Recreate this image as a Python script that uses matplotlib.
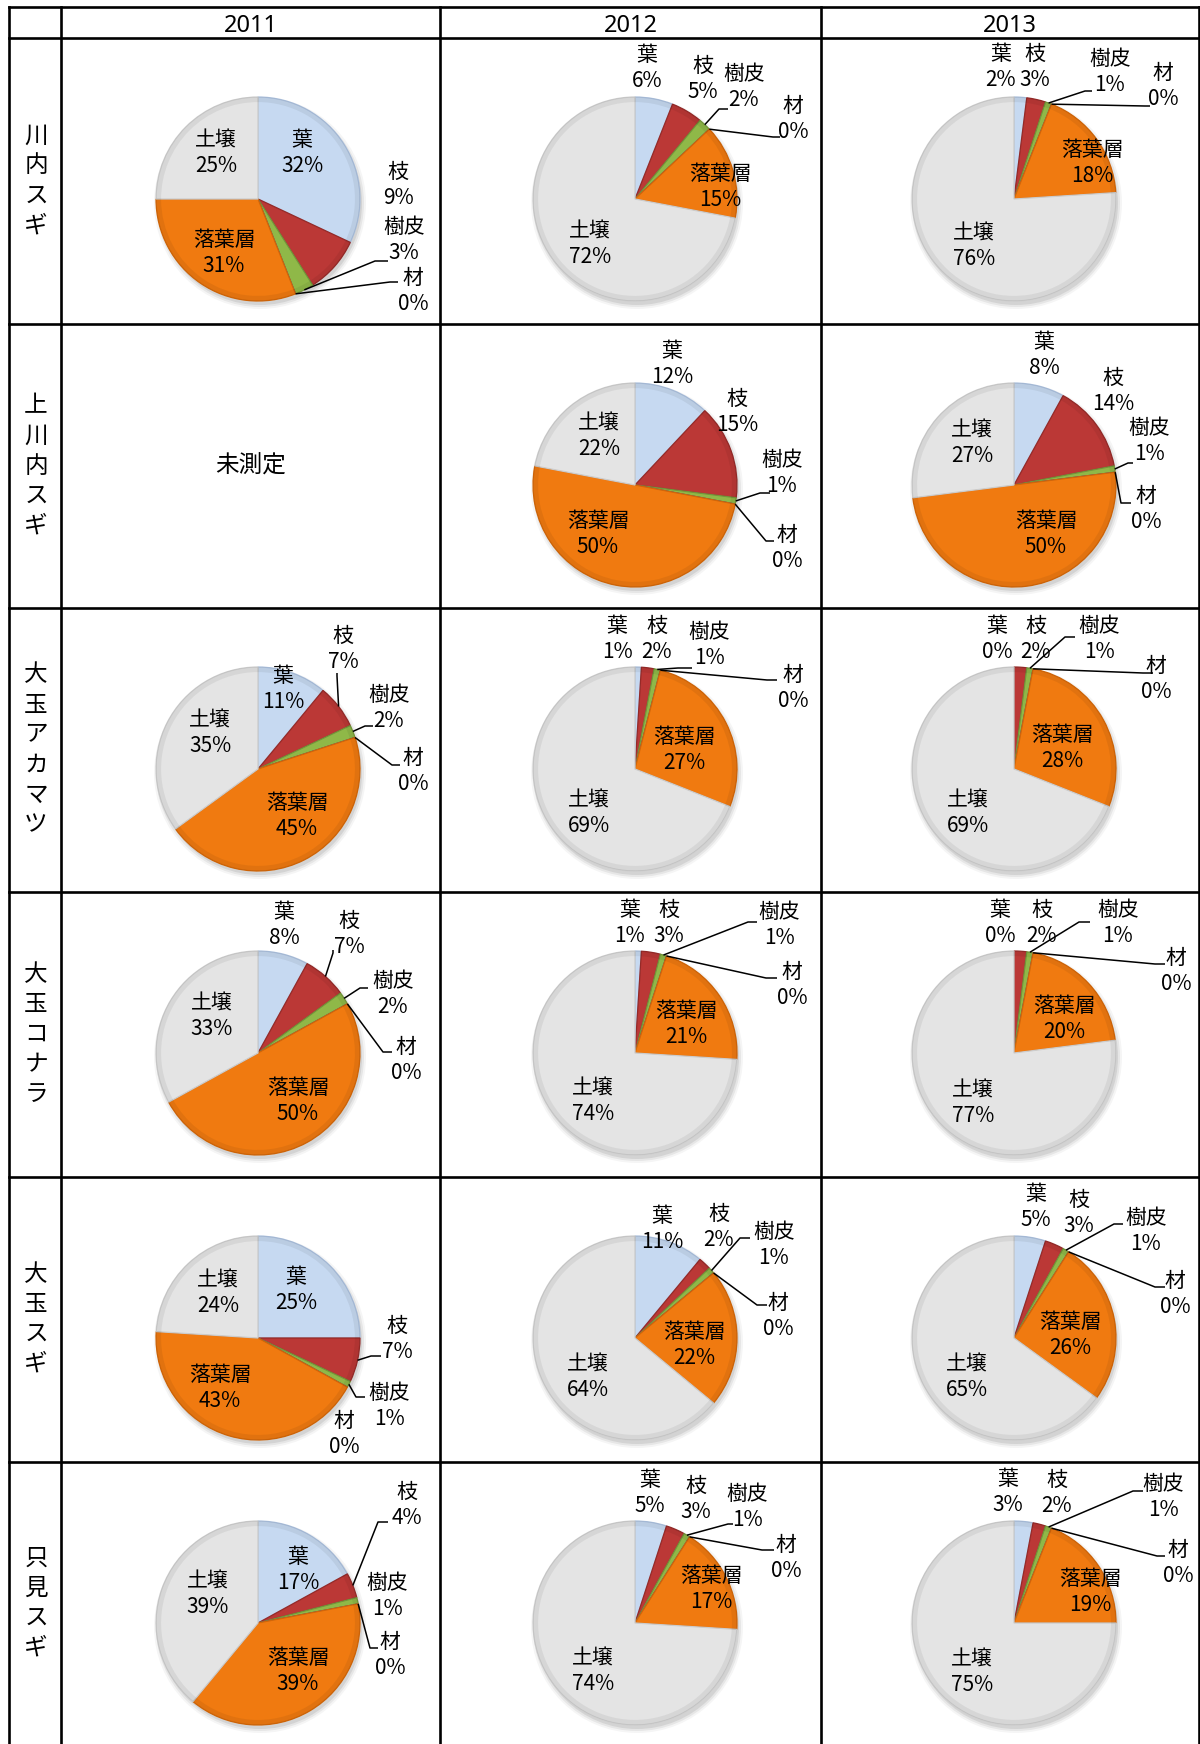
import matplotlib
matplotlib.use("Agg")
import matplotlib.pyplot as plt
import numpy as np
from matplotlib.patches import Wedge, Circle

plt.rcParams['font.family'] = ['Noto Sans CJK JP', 'DejaVu Sans']

# ---------------------------------------------------------------- data
categories = ['葉', '枝', '樹皮', '材', '落葉層', '土壌']
years = ['2011', '2012', '2013']
sites = ['川内スギ', '上川内スギ', '大玉アカマツ', '大玉コナラ', '大玉スギ', '只見スギ']
not_measured = '未測定'

# percentage shares per year (2011, 2012, 2013); None = not measured
kawauchi_sugi = [[32, 9, 3, 0, 31, 25], [6, 5, 2, 0, 15, 72], [2, 3, 1, 0, 18, 76]]
kamikawauchi_sugi = [None, [12, 15, 1, 0, 50, 22], [8, 14, 1, 0, 50, 27]]
otama_akamatsu = [[11, 7, 2, 0, 45, 35], [1, 2, 1, 0, 27, 69], [0, 2, 1, 0, 28, 69]]
otama_konara = [[8, 7, 2, 0, 50, 33], [1, 3, 1, 0, 21, 74], [0, 2, 1, 0, 20, 77]]
otama_sugi = [[25, 7, 1, 0, 43, 24], [11, 2, 1, 0, 22, 64], [5, 3, 1, 0, 26, 65]]
tadami_sugi = [[17, 4, 1, 0, 39, 39], [5, 3, 1, 0, 17, 74], [3, 2, 1, 0, 19, 75]]

site_values = [kawauchi_sugi, kamikawauchi_sugi, otama_akamatsu,
               otama_konara, otama_sugi, tadami_sugi]

# ---------------------------------------------------------------- style
colors = ['#c6d9f1', '#bb3836', '#8fb848', '#8064a2', '#f07a10', '#e4e4e4']
edge_colors = ['#a9bedb', '#952a28', '#73963a', '#5e4a7c', '#d26608', '#cccccc']

W, H = 1200, 1744
COL_LINES = [9, 61, 440, 821, 1199]
ROW_LINES = [7, 38, 324, 608, 892, 1177, 1462]
PIE_X = [258, 635, 1014]
PIE_DY = 161
R = 102
LABEL_FS = 15
LINE_GAP = 13

# label block centres, as pixel offsets from the pie centre
label_offsets = {
    (0, 0): {'葉': (44, -46), '枝': (140, -14), '樹皮': (146, 41), '材': (155, 92),
             '落葉層': (-34, 54), '土壌': (-42, -46)},
    (0, 1): {'葉': (12, -131), '枝': (68, -120), '樹皮': (109, -112), '材': (158, -80),
             '落葉層': (85, -12), '土壌': (-45, 45)},
    (0, 2): {'葉': (-13, -132), '枝': (21, -132), '樹皮': (96, -127), '材': (149, -113),
             '落葉層': (78, -36), '土壌': (-40, 47)},
    (1, 1): {'葉': (37, -121), '枝': (102, -73), '樹皮': (147, -12), '材': (152, 63),
             '落葉層': (-37, 49), '土壌': (-36, -49)},
    (1, 2): {'葉': (30, -130), '枝': (99, -94), '樹皮': (135, -44), '材': (132, 24),
             '落葉層': (32, 49), '土壌': (-42, -42)},
    (2, 0): {'葉': (25, -80), '枝': (85, -120), '樹皮': (131, -61), '材': (155, 2),
             '落葉層': (39, 47), '土壌': (-48, -36)},
    (2, 1): {'葉': (-18, -130), '枝': (22, -130), '樹皮': (74, -124), '材': (158, -81),
             '落葉層': (49, -19), '土壌': (-46, 44)},
    (2, 2): {'葉': (-17, -130), '枝': (22, -130), '樹皮': (85, -130), '材': (142, -90),
             '落葉層': (48, -21), '土壌': (-46, 44)},
    (3, 0): {'葉': (26, -128), '枝': (91, -119), '樹皮': (135, -59), '材': (148, 7),
             '落葉層': (40, 48), '土壌': (-46, -37)},
    (3, 1): {'葉': (-5, -130), '枝': (34, -130), '樹皮': (144, -128), '材': (157, -68),
             '落葉層': (51, -29), '土壌': (-42, 48)},
    (3, 2): {'葉': (-14, -130), '枝': (28, -130), '樹皮': (104, -130), '材': (162, -82),
             '落葉層': (50, -34), '土壌': (-41, 50)},
    (4, 0): {'葉': (38, -48), '枝': (139, 1), '樹皮': (131, 68), '材': (86, 96),
             '落葉層': (-38, 50), '土壌': (-40, -45)},
    (4, 1): {'葉': (27, -109), '枝': (84, -111), '樹皮': (139, -93), '材': (143, -22),
             '落葉層': (59, 7), '土壌': (-47, 39)},
    (4, 2): {'葉': (22, -131), '枝': (65, -125), '樹皮': (132, -107), '材': (161, -44),
             '落葉層': (56, -3), '土壌': (-47, 39)},
    (5, 0): {'葉': (40, -53), '枝': (149, -118), '樹皮': (129, -27), '材': (132, 32),
             '落葉層': (40, 48), '土壌': (-50, -29)},
    (5, 1): {'葉': (15, -130), '枝': (61, -124), '樹皮': (112, -116), '材': (151, -65),
             '落葉層': (76, -34), '土壌': (-42, 48)},
    (5, 2): {'葉': (-6, -131), '枝': (43, -130), '樹皮': (149, -126), '材': (164, -60),
             '落葉層': (76, -31), '土壌': (-42, 49)},
}

# leader lines: elbow and end point (offsets from pie centre); start is on the rim
leader_offsets = {
    (0, 0): {'樹皮': [(117, 62), (130, 62)], '材': [(132, 83), (140, 83)]},
    (0, 1): {'樹皮': [(84, -90), (93, -90)], '材': [(138, -62), (145, -62)]},
    (0, 2): {'樹皮': [(71, -108), (78, -108)], '材': [(131, -93), (136, -93)]},
    (1, 1): {'樹皮': [(125, 8), (135, 8)], '材': [(131, 56), (139, 56)]},
    (1, 2): {'樹皮': [(114, -22), (119, -22)], '材': [(107, 18), (117, 18)]},
    (2, 0): {'枝': [(79, -93), (79, -96)], '樹皮': [(107, -43), (115, -43)],
             '材': [(134, -4), (142, -4)]},
    (2, 1): {'樹皮': [(43, -101), (57, -101)], '材': [(132, -89), (142, -89)]},
    (2, 2): {'樹皮': [(51, -132), (61, -132)], '材': [(129, -96), (139, -96)]},
    (3, 0): {'枝': [(75, -100), (75, -103)], '樹皮': [(102, -65), (110, -65)],
             '材': [(125, -1), (134, -1)]},
    (3, 1): {'樹皮': [(113, -131), (122, -131)], '材': [(131, -75), (142, -75)]},
    (3, 2): {'樹皮': [(65, -131), (76, -131)], '材': [(141, -89), (151, -89)]},
    (4, 0): {'枝': [(113, 18), (123, 18)], '樹皮': [(98, 59), (107, 59)]},
    (4, 1): {'樹皮': [(105, -100), (115, -100)], '材': [(122, -33), (132, -33)]},
    (4, 2): {'樹皮': [(100, -114), (109, -114)], '材': [(141, -51), (151, -51)]},
    (5, 0): {'枝': [(120, -101), (130, -101)], '材': [(112, 25), (120, 25)]},
    (5, 1): {'樹皮': [(93, -99), (98, -99)], '材': [(127, -73), (139, -73)]},
    (5, 2): {'樹皮': [(119, -132), (129, -132)], '材': [(143, -67), (151, -67)]},
}

# ---------------------------------------------------------------- figure
fig = plt.figure(figsize=(12, 17.44), dpi=100)
ax = fig.add_axes([0, 0, 1, 1])
fig.patch.set_facecolor('white')


def draw_pie(values, cx, cy, key):
    # soft drop shadow below and to the right
    for grow, alpha in ((4, 0.04), (2, 0.06), (0, 0.08)):
        ax.add_patch(Circle((cx + 2, cy + 4), R + grow, facecolor='#000000', alpha=alpha,
                            edgecolor='none', zorder=1))
    wedges, _ = ax.pie(values, colors=colors, center=(cx, cy), radius=R,
                       startangle=-90, counterclock=True, frame=True,
                       wedgeprops=dict(linewidth=0.9, zorder=2))
    for w, ec in zip(wedges, edge_colors):
        w.set_edgecolor(ec)
        w.set_zorder(2)
        # gentle bevel: slightly darker outer rim
        if w.theta2 - w.theta1 > 0.01:
            ax.add_patch(Wedge((cx, cy), R, w.theta1, w.theta2, width=R * 0.05,
                               facecolor='black', alpha=0.06, edgecolor='none', zorder=3))

    offs = label_offsets[key]
    leads = leader_offsets.get(key, {})
    for cat, val, w in zip(categories, values, wedges):
        dx, dy = offs[cat]
        lx, ly = cx + dx, cy + dy
        ax.text(lx, ly - LINE_GAP, cat, ha='center', va='center',
                fontsize=LABEL_FS, color='black', zorder=6)
        ax.text(lx, ly + LINE_GAP, f'{val}%', ha='center', va='center',
                fontsize=LABEL_FS, color='black', zorder=6)
        if cat in leads:
            mid = np.deg2rad((w.theta1 + w.theta2) / 2)
            sx, sy = cx + R * np.cos(mid), cy + R * np.sin(mid)
            (ex, ey), (fx, fy) = leads[cat]
            ax.plot([sx, cx + ex, cx + fx], [sy, cy + ey, cy + fy],
                    color='black', lw=1.1, zorder=5, solid_capstyle='butt')


for r, site in enumerate(site_values):
    cy = ROW_LINES[r + 1] + PIE_DY
    for c, vals in enumerate(site):
        if vals is None:
            ax.text((COL_LINES[c + 1] + COL_LINES[c + 2]) / 2,
                    (ROW_LINES[r + 1] + ROW_LINES[r + 2]) / 2,
                    not_measured, ha='center', va='center', fontsize=17, zorder=6)
        else:
            draw_pie(vals, PIE_X[c], cy, (r, c))

# header row
for c, yr in enumerate(years):
    ax.text((COL_LINES[c + 1] + COL_LINES[c + 2]) / 2, (ROW_LINES[0] + ROW_LINES[1]) / 2 + 3,
            yr, ha='center', va='center', fontsize=17, family=['Noto Sans', 'DejaVu Sans'],
            zorder=6)

# row labels, written vertically one character at a time
CHAR_STEP = 30
for r, name in enumerate(sites):
    top, bot = ROW_LINES[r + 1], (ROW_LINES[r + 2] if r + 2 < len(ROW_LINES) else H)
    mid = (top + bot) / 2
    n = len(name)
    for i, ch in enumerate(name):
        ax.text((COL_LINES[0] + COL_LINES[1]) / 2 + 1, mid + (i - (n - 1) / 2) * CHAR_STEP,
                ch, ha='center', va='center', fontsize=17, zorder=6)

# table grid
for x in COL_LINES:
    ax.plot([x, x], [ROW_LINES[0], H], color='black', lw=1.9, zorder=7,
            solid_capstyle='projecting')
for y in ROW_LINES:
    ax.plot([COL_LINES[0], COL_LINES[-1]], [y, y], color='black', lw=1.9, zorder=7,
            solid_capstyle='projecting')

ax.set_xlim(0, W)
ax.set_ylim(H, 0)
ax.set_aspect('auto')
ax.axis('off')

fig.savefig('out.png', dpi=100, facecolor='white')
